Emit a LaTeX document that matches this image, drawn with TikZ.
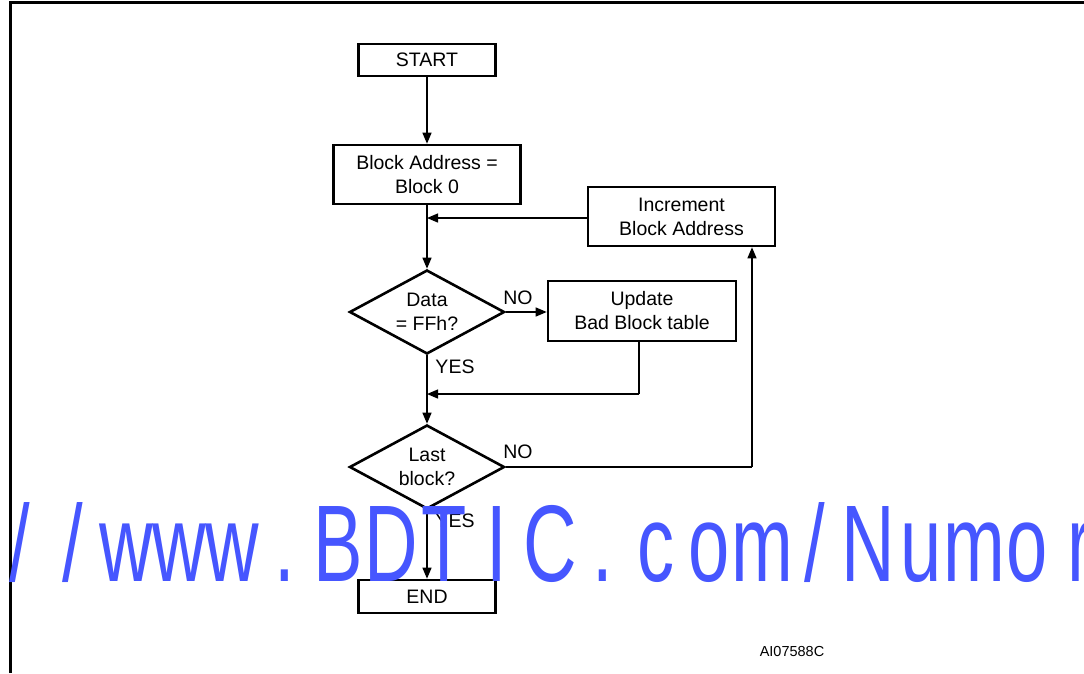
\documentclass[tikz,border=0pt]{standalone}
\usepackage{fontspec}
\setmainfont{Liberation Sans}
\usetikzlibrary{shapes.geometric,arrows.meta}
\definecolor{wmblue}{RGB}{70,86,255}
\tikzset{
  box/.style={draw, line width=2.6pt, inner sep=0pt, align=center,
    font=\fontsize{19.5}{24}\selectfont},
  dia/.style={draw, diamond, aspect=1.845, line width=2.6pt, inner sep=0pt, align=center,
    minimum width=155pt, minimum height=84pt,
    font=\fontsize{19.5}{24}\selectfont},
  conn/.style={line width=1.3pt, -{Triangle[length=11pt,width=9pt]}},
  plain/.style={line width=1.3pt},
  lbl/.style={inner sep=0pt, font=\fontsize{19.5}{24}\selectfont},
  frame/.style={line width=2.6pt},
  wm/.style={inner sep=0pt, anchor=base, text=wmblue,
    font=\fontsize{109}{109}\selectfont}
}
\begin{document}
\begin{tikzpicture}[x=1pt,y=-1pt]
\useasboundingbox (0,0) rectangle (1084,673);
\clip (0,0) rectangle (1084,673);
\fill[white] (0,0) rectangle (1084,673);
\draw[frame] (10.3,673) -- (10.3,2.7) -- (1084,2.7);

\node[box, minimum width=137pt, minimum height=32pt] (start) at (427,60) {START};
\node[box, minimum width=187pt, minimum height=59pt] (block) at (427,174.5) {Block Address =\\Block 0};
\node[box, minimum width=187pt, minimum height=59pt] (incr) at (681.5,216.5) {Increment\\Block Address};
\node[dia] (data) at (427,312) {Data\\= FFh?};
\node[box, minimum width=188pt, minimum height=60pt] (upd) at (642,311) {Update\\Bad Block table};
\node[dia] (last) at (427,467) {Last\\block?};
\node[box, minimum width=137pt, minimum height=33pt] (end) at (427,596.5) {END};

\node[lbl] (no1) at (518,298) {NO};
\node[lbl] (yes1) at (455,367) {YES};
\node[lbl] (no2) at (518,452) {NO};
\node[lbl] (yes2) at (455,521) {YES};
\node[inner sep=0pt, font=\fontsize{14.5}{17}\selectfont] (id) at (792,651) {AI07588C};

\coordinate (j2) at (639,394);
\coordinate (c3) at (752,467);

\draw[conn] (start) -- (block);
\draw[conn] (block) -- (data);
\draw[conn] (incr.west |- 0,218) -- (block.south |- 0,218);
\draw[conn] (data.east) -- (data.east -| upd.west);
\draw[plain] (j2 |- upd.south) -- (j2);
\draw[conn] (j2) -- (j2 -| data.south);
\draw[conn] (data) -- (last);
\draw[plain] (last.east) -- (c3);
\draw[conn] (c3) -- (c3 |- incr.south);
\draw[conn] (last) -- (end);

\foreach \c [count=\i from 0] in {{/},{/},w,w,w,.,B,D,T,I,C,.,c,o,m,{/},N,u,m,o,r}{
  \node[wm] (wm\i) at ({20+53*\i},581) {\scalebox{0.68}[1]{\c}};
}
\end{tikzpicture}
\end{document}
